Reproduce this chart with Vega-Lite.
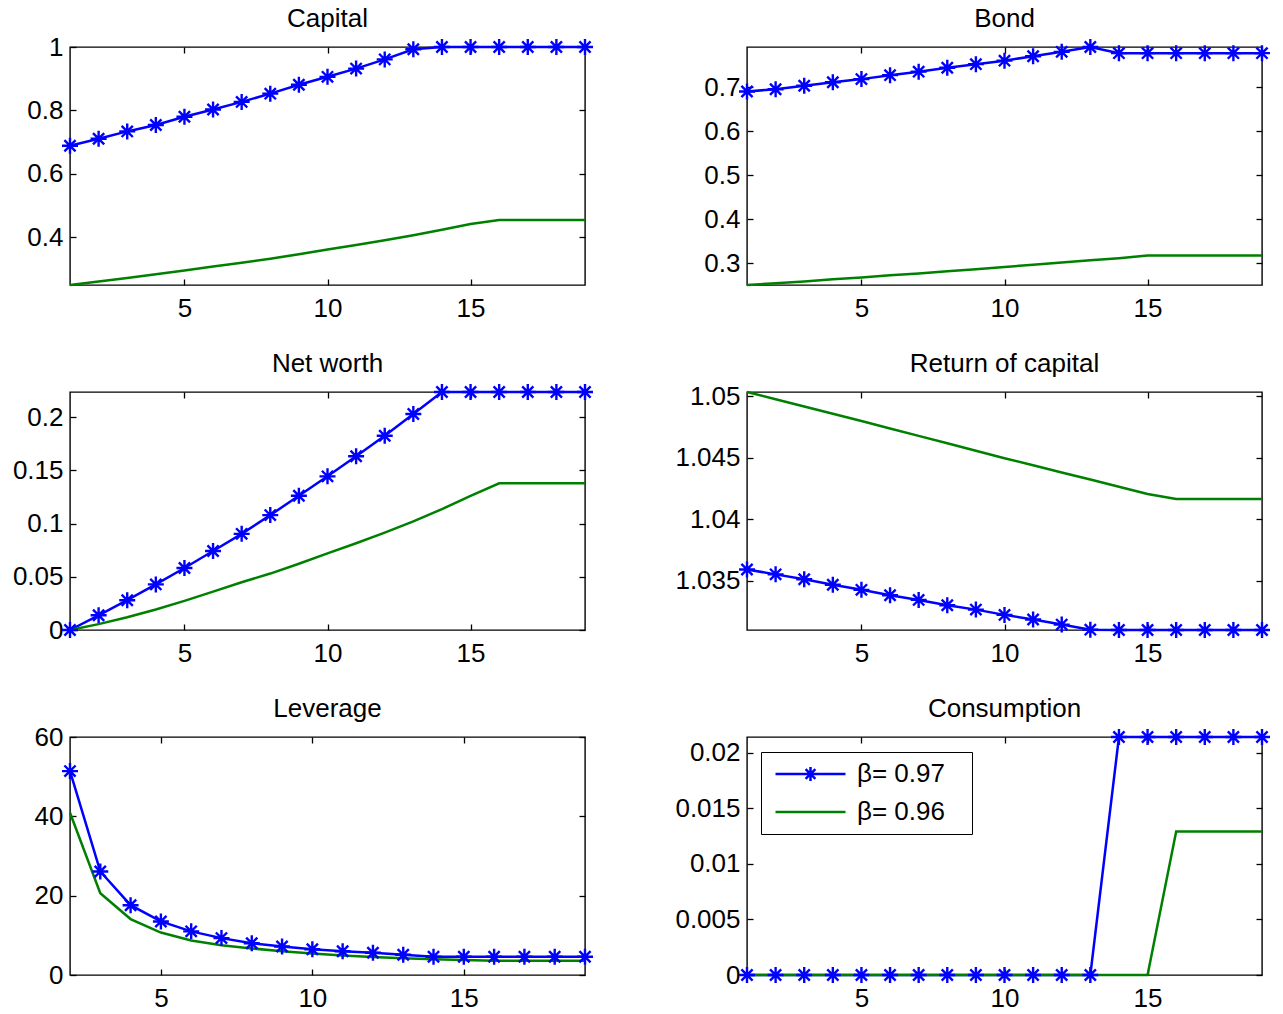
{
  "$schema": "https://vega.github.io/schema/vega-lite/v6.json",
  "padding": {"left": 11, "top": 5, "right": 5, "bottom": 5},
  "background": "white",
  "columns": 2,
  "spacing": {"row": 107, "column": 162},
  "bounds": "flush",
  "resolve": {"scale": {"color": "independent", "shape": "independent"}, "legend": {"color": "independent", "shape": "independent"}},
  "data": {"values": [
    {"p":"Capital","s":"β= 0.97","t":1,"v":0.689},{"p":"Capital","s":"β= 0.97","t":2,"v":0.711},{"p":"Capital","s":"β= 0.97","t":3,"v":0.734},{"p":"Capital","s":"β= 0.97","t":4,"v":0.754},{"p":"Capital","s":"β= 0.97","t":5,"v":0.78},{"p":"Capital","s":"β= 0.97","t":6,"v":0.803},{"p":"Capital","s":"β= 0.97","t":7,"v":0.827},{"p":"Capital","s":"β= 0.97","t":8,"v":0.853},{"p":"Capital","s":"β= 0.97","t":9,"v":0.881},{"p":"Capital","s":"β= 0.97","t":10,"v":0.906},{"p":"Capital","s":"β= 0.97","t":11,"v":0.932},{"p":"Capital","s":"β= 0.97","t":12,"v":0.961},{"p":"Capital","s":"β= 0.97","t":13,"v":0.993},{"p":"Capital","s":"β= 0.97","t":14,"v":1},{"p":"Capital","s":"β= 0.97","t":15,"v":1},{"p":"Capital","s":"β= 0.97","t":16,"v":1},{"p":"Capital","s":"β= 0.97","t":17,"v":1},{"p":"Capital","s":"β= 0.97","t":18,"v":1},{"p":"Capital","s":"β= 0.97","t":19,"v":1},
    {"p":"Capital","s":"β= 0.96","t":1,"v":0.25},{"p":"Capital","s":"β= 0.96","t":2,"v":0.261},{"p":"Capital","s":"β= 0.96","t":3,"v":0.272},{"p":"Capital","s":"β= 0.96","t":4,"v":0.284},{"p":"Capital","s":"β= 0.96","t":5,"v":0.296},{"p":"Capital","s":"β= 0.96","t":6,"v":0.308},{"p":"Capital","s":"β= 0.96","t":7,"v":0.32},{"p":"Capital","s":"β= 0.96","t":8,"v":0.333},{"p":"Capital","s":"β= 0.96","t":9,"v":0.347},{"p":"Capital","s":"β= 0.96","t":10,"v":0.362},{"p":"Capital","s":"β= 0.96","t":11,"v":0.376},{"p":"Capital","s":"β= 0.96","t":12,"v":0.391},{"p":"Capital","s":"β= 0.96","t":13,"v":0.407},{"p":"Capital","s":"β= 0.96","t":14,"v":0.424},{"p":"Capital","s":"β= 0.96","t":15,"v":0.442},{"p":"Capital","s":"β= 0.96","t":16,"v":0.455},{"p":"Capital","s":"β= 0.96","t":17,"v":0.455},{"p":"Capital","s":"β= 0.96","t":18,"v":0.455},{"p":"Capital","s":"β= 0.96","t":19,"v":0.455},
    {"p":"Bond","s":"β= 0.97","t":1,"v":0.69},{"p":"Bond","s":"β= 0.97","t":2,"v":0.695},{"p":"Bond","s":"β= 0.97","t":3,"v":0.703},{"p":"Bond","s":"β= 0.97","t":4,"v":0.711},{"p":"Bond","s":"β= 0.97","t":5,"v":0.718},{"p":"Bond","s":"β= 0.97","t":6,"v":0.727},{"p":"Bond","s":"β= 0.97","t":7,"v":0.735},{"p":"Bond","s":"β= 0.97","t":8,"v":0.744},{"p":"Bond","s":"β= 0.97","t":9,"v":0.752},{"p":"Bond","s":"β= 0.97","t":10,"v":0.76},{"p":"Bond","s":"β= 0.97","t":11,"v":0.77},{"p":"Bond","s":"β= 0.97","t":12,"v":0.78},{"p":"Bond","s":"β= 0.97","t":13,"v":0.791},{"p":"Bond","s":"β= 0.97","t":14,"v":0.777},{"p":"Bond","s":"β= 0.97","t":15,"v":0.777},{"p":"Bond","s":"β= 0.97","t":16,"v":0.777},{"p":"Bond","s":"β= 0.97","t":17,"v":0.777},{"p":"Bond","s":"β= 0.97","t":18,"v":0.777},{"p":"Bond","s":"β= 0.97","t":19,"v":0.777},
    {"p":"Bond","s":"β= 0.96","t":1,"v":0.25},{"p":"Bond","s":"β= 0.96","t":2,"v":0.254},{"p":"Bond","s":"β= 0.96","t":3,"v":0.258},{"p":"Bond","s":"β= 0.96","t":4,"v":0.263},{"p":"Bond","s":"β= 0.96","t":5,"v":0.267},{"p":"Bond","s":"β= 0.96","t":6,"v":0.272},{"p":"Bond","s":"β= 0.96","t":7,"v":0.276},{"p":"Bond","s":"β= 0.96","t":8,"v":0.281},{"p":"Bond","s":"β= 0.96","t":9,"v":0.286},{"p":"Bond","s":"β= 0.96","t":10,"v":0.291},{"p":"Bond","s":"β= 0.96","t":11,"v":0.296},{"p":"Bond","s":"β= 0.96","t":12,"v":0.301},{"p":"Bond","s":"β= 0.96","t":13,"v":0.306},{"p":"Bond","s":"β= 0.96","t":14,"v":0.311},{"p":"Bond","s":"β= 0.96","t":15,"v":0.317},{"p":"Bond","s":"β= 0.96","t":16,"v":0.317},{"p":"Bond","s":"β= 0.96","t":17,"v":0.317},{"p":"Bond","s":"β= 0.96","t":18,"v":0.317},{"p":"Bond","s":"β= 0.96","t":19,"v":0.317},
    {"p":"Net worth","s":"β= 0.97","t":1,"v":0},{"p":"Net worth","s":"β= 0.97","t":2,"v":0.0138},{"p":"Net worth","s":"β= 0.97","t":3,"v":0.028},{"p":"Net worth","s":"β= 0.97","t":4,"v":0.0428},{"p":"Net worth","s":"β= 0.97","t":5,"v":0.0582},{"p":"Net worth","s":"β= 0.97","t":6,"v":0.0742},{"p":"Net worth","s":"β= 0.97","t":7,"v":0.0903},{"p":"Net worth","s":"β= 0.97","t":8,"v":0.1079},{"p":"Net worth","s":"β= 0.97","t":9,"v":0.1261},{"p":"Net worth","s":"β= 0.97","t":10,"v":0.1443},{"p":"Net worth","s":"β= 0.97","t":11,"v":0.1632},{"p":"Net worth","s":"β= 0.97","t":12,"v":0.1824},{"p":"Net worth","s":"β= 0.97","t":13,"v":0.2028},{"p":"Net worth","s":"β= 0.97","t":14,"v":0.2235},{"p":"Net worth","s":"β= 0.97","t":15,"v":0.2235},{"p":"Net worth","s":"β= 0.97","t":16,"v":0.2235},{"p":"Net worth","s":"β= 0.97","t":17,"v":0.2235},{"p":"Net worth","s":"β= 0.97","t":18,"v":0.2235},{"p":"Net worth","s":"β= 0.97","t":19,"v":0.2235},
    {"p":"Net worth","s":"β= 0.96","t":1,"v":0},{"p":"Net worth","s":"β= 0.96","t":2,"v":0.0055},{"p":"Net worth","s":"β= 0.96","t":3,"v":0.012},{"p":"Net worth","s":"β= 0.96","t":4,"v":0.0193},{"p":"Net worth","s":"β= 0.96","t":5,"v":0.0274},{"p":"Net worth","s":"β= 0.96","t":6,"v":0.036},{"p":"Net worth","s":"β= 0.96","t":7,"v":0.0448},{"p":"Net worth","s":"β= 0.96","t":8,"v":0.053},{"p":"Net worth","s":"β= 0.96","t":9,"v":0.0622},{"p":"Net worth","s":"β= 0.96","t":10,"v":0.072},{"p":"Net worth","s":"β= 0.96","t":11,"v":0.0815},{"p":"Net worth","s":"β= 0.96","t":12,"v":0.0915},{"p":"Net worth","s":"β= 0.96","t":13,"v":0.102},{"p":"Net worth","s":"β= 0.96","t":14,"v":0.1135},{"p":"Net worth","s":"β= 0.96","t":15,"v":0.126},{"p":"Net worth","s":"β= 0.96","t":16,"v":0.1377},{"p":"Net worth","s":"β= 0.96","t":17,"v":0.1377},{"p":"Net worth","s":"β= 0.96","t":18,"v":0.1377},{"p":"Net worth","s":"β= 0.96","t":19,"v":0.1377},
    {"p":"Return of capital","s":"β= 0.97","t":1,"v":1.0359},{"p":"Return of capital","s":"β= 0.97","t":2,"v":1.0355},{"p":"Return of capital","s":"β= 0.97","t":3,"v":1.0351},{"p":"Return of capital","s":"β= 0.97","t":4,"v":1.03465},{"p":"Return of capital","s":"β= 0.97","t":5,"v":1.03424},{"p":"Return of capital","s":"β= 0.97","t":6,"v":1.0338},{"p":"Return of capital","s":"β= 0.97","t":7,"v":1.03342},{"p":"Return of capital","s":"β= 0.97","t":8,"v":1.03299},{"p":"Return of capital","s":"β= 0.97","t":9,"v":1.03263},{"p":"Return of capital","s":"β= 0.97","t":10,"v":1.0322},{"p":"Return of capital","s":"β= 0.97","t":11,"v":1.03182},{"p":"Return of capital","s":"β= 0.97","t":12,"v":1.03141},{"p":"Return of capital","s":"β= 0.97","t":13,"v":1.031},{"p":"Return of capital","s":"β= 0.97","t":14,"v":1.03097},{"p":"Return of capital","s":"β= 0.97","t":15,"v":1.03097},{"p":"Return of capital","s":"β= 0.97","t":16,"v":1.03097},{"p":"Return of capital","s":"β= 0.97","t":17,"v":1.03097},{"p":"Return of capital","s":"β= 0.97","t":18,"v":1.03097},{"p":"Return of capital","s":"β= 0.97","t":19,"v":1.03097},
    {"p":"Return of capital","s":"β= 0.96","t":1,"v":1.05035},{"p":"Return of capital","s":"β= 0.96","t":2,"v":1.04976},{"p":"Return of capital","s":"β= 0.96","t":3,"v":1.04917},{"p":"Return of capital","s":"β= 0.96","t":4,"v":1.04858},{"p":"Return of capital","s":"β= 0.96","t":5,"v":1.04799},{"p":"Return of capital","s":"β= 0.96","t":6,"v":1.04738},{"p":"Return of capital","s":"β= 0.96","t":7,"v":1.04678},{"p":"Return of capital","s":"β= 0.96","t":8,"v":1.04617},{"p":"Return of capital","s":"β= 0.96","t":9,"v":1.04557},{"p":"Return of capital","s":"β= 0.96","t":10,"v":1.04496},{"p":"Return of capital","s":"β= 0.96","t":11,"v":1.04438},{"p":"Return of capital","s":"β= 0.96","t":12,"v":1.0438},{"p":"Return of capital","s":"β= 0.96","t":13,"v":1.04322},{"p":"Return of capital","s":"β= 0.96","t":14,"v":1.04264},{"p":"Return of capital","s":"β= 0.96","t":15,"v":1.04205},{"p":"Return of capital","s":"β= 0.96","t":16,"v":1.04164},{"p":"Return of capital","s":"β= 0.96","t":17,"v":1.04164},{"p":"Return of capital","s":"β= 0.96","t":18,"v":1.04164},{"p":"Return of capital","s":"β= 0.96","t":19,"v":1.04164},
    {"p":"Leverage","s":"β= 0.97","t":2,"v":51.4},{"p":"Leverage","s":"β= 0.97","t":3,"v":26.1},{"p":"Leverage","s":"β= 0.97","t":4,"v":17.6},{"p":"Leverage","s":"β= 0.97","t":5,"v":13.5},{"p":"Leverage","s":"β= 0.97","t":6,"v":11.0},{"p":"Leverage","s":"β= 0.97","t":7,"v":9.3},{"p":"Leverage","s":"β= 0.97","t":8,"v":8.0},{"p":"Leverage","s":"β= 0.97","t":9,"v":7.2},{"p":"Leverage","s":"β= 0.97","t":10,"v":6.5},{"p":"Leverage","s":"β= 0.97","t":11,"v":6.0},{"p":"Leverage","s":"β= 0.97","t":12,"v":5.6},{"p":"Leverage","s":"β= 0.97","t":13,"v":5.1},{"p":"Leverage","s":"β= 0.97","t":14,"v":4.6},{"p":"Leverage","s":"β= 0.97","t":15,"v":4.6},{"p":"Leverage","s":"β= 0.97","t":16,"v":4.6},{"p":"Leverage","s":"β= 0.97","t":17,"v":4.6},{"p":"Leverage","s":"β= 0.97","t":18,"v":4.6},{"p":"Leverage","s":"β= 0.97","t":19,"v":4.6},
    {"p":"Leverage","s":"β= 0.96","t":2,"v":40.9},{"p":"Leverage","s":"β= 0.96","t":3,"v":20.6},{"p":"Leverage","s":"β= 0.96","t":4,"v":14.1},{"p":"Leverage","s":"β= 0.96","t":5,"v":10.7},{"p":"Leverage","s":"β= 0.96","t":6,"v":8.7},{"p":"Leverage","s":"β= 0.96","t":7,"v":7.5},{"p":"Leverage","s":"β= 0.96","t":8,"v":6.7},{"p":"Leverage","s":"β= 0.96","t":9,"v":6.0},{"p":"Leverage","s":"β= 0.96","t":10,"v":5.4},{"p":"Leverage","s":"β= 0.96","t":11,"v":4.9},{"p":"Leverage","s":"β= 0.96","t":12,"v":4.55},{"p":"Leverage","s":"β= 0.96","t":13,"v":4.2},{"p":"Leverage","s":"β= 0.96","t":14,"v":3.95},{"p":"Leverage","s":"β= 0.96","t":15,"v":3.8},{"p":"Leverage","s":"β= 0.96","t":16,"v":3.6},{"p":"Leverage","s":"β= 0.96","t":17,"v":3.6},{"p":"Leverage","s":"β= 0.96","t":18,"v":3.6},{"p":"Leverage","s":"β= 0.96","t":19,"v":3.6},
    {"p":"Consumption","s":"β= 0.97","t":1,"v":0},{"p":"Consumption","s":"β= 0.97","t":2,"v":0},{"p":"Consumption","s":"β= 0.97","t":3,"v":0},{"p":"Consumption","s":"β= 0.97","t":4,"v":0},{"p":"Consumption","s":"β= 0.97","t":5,"v":0},{"p":"Consumption","s":"β= 0.97","t":6,"v":0},{"p":"Consumption","s":"β= 0.97","t":7,"v":0},{"p":"Consumption","s":"β= 0.97","t":8,"v":0},{"p":"Consumption","s":"β= 0.97","t":9,"v":0},{"p":"Consumption","s":"β= 0.97","t":10,"v":0},{"p":"Consumption","s":"β= 0.97","t":11,"v":0},{"p":"Consumption","s":"β= 0.97","t":12,"v":0},{"p":"Consumption","s":"β= 0.97","t":13,"v":0},{"p":"Consumption","s":"β= 0.97","t":14,"v":0.0214},{"p":"Consumption","s":"β= 0.97","t":15,"v":0.0214},{"p":"Consumption","s":"β= 0.97","t":16,"v":0.0214},{"p":"Consumption","s":"β= 0.97","t":17,"v":0.0214},{"p":"Consumption","s":"β= 0.97","t":18,"v":0.0214},{"p":"Consumption","s":"β= 0.97","t":19,"v":0.0214},
    {"p":"Consumption","s":"β= 0.96","t":1,"v":0},{"p":"Consumption","s":"β= 0.96","t":2,"v":0},{"p":"Consumption","s":"β= 0.96","t":3,"v":0},{"p":"Consumption","s":"β= 0.96","t":4,"v":0},{"p":"Consumption","s":"β= 0.96","t":5,"v":0},{"p":"Consumption","s":"β= 0.96","t":6,"v":0},{"p":"Consumption","s":"β= 0.96","t":7,"v":0},{"p":"Consumption","s":"β= 0.96","t":8,"v":0},{"p":"Consumption","s":"β= 0.96","t":9,"v":0},{"p":"Consumption","s":"β= 0.96","t":10,"v":0},{"p":"Consumption","s":"β= 0.96","t":11,"v":0},{"p":"Consumption","s":"β= 0.96","t":12,"v":0},{"p":"Consumption","s":"β= 0.96","t":13,"v":0},{"p":"Consumption","s":"β= 0.96","t":14,"v":0},{"p":"Consumption","s":"β= 0.96","t":15,"v":0},{"p":"Consumption","s":"β= 0.96","t":16,"v":0.0129},{"p":"Consumption","s":"β= 0.96","t":17,"v":0.0129},{"p":"Consumption","s":"β= 0.96","t":18,"v":0.0129},{"p":"Consumption","s":"β= 0.96","t":19,"v":0.0129}
  ]},
  "concat": [
    {
      "width": 515, "height": 238, "title": "Capital",
      "transform": [{"filter": "datum.p === 'Capital'"}],
      "resolve": {"axis": {"x": "independent", "y": "independent"}},
      "layer": [
        {"mark": {"type": "line", "strokeWidth": 2.5},
         "encoding": {
           "x": {"field": "t", "type": "quantitative", "scale": {"domain": [1, 19], "nice": false, "zero": false}, "axis": {"values": [5, 10, 15], "title": null}},
           "y": {"field": "v", "type": "quantitative", "scale": {"domain": [0.25, 1], "nice": false, "zero": false}, "axis": {"values": [0.4, 0.6, 0.8, 1], "title": null, "format": ".4~f"}},
           "color": {"field": "s", "type": "nominal", "sort": null, "scale": {"domain": ["β= 0.97", "β= 0.96"], "range": ["#0000ff", "#008000"]}, "legend": null}}},
        {"transform": [{"filter": "datum.s === 'β= 0.97'"}],
         "mark": {"type": "point", "shape": "M0,-1V1M-1,0H1M-0.7,-0.7L0.7,0.7M-0.7,0.7L0.7,-0.7", "size": 256, "strokeWidth": 2.4, "filled": false, "color": "#0000ff", "opacity": 1},
         "encoding": {
           "x": {"field": "t", "type": "quantitative", "axis": {"orient": "top", "values": [5, 10, 15], "labels": false, "title": null}},
           "y": {"field": "v", "type": "quantitative", "axis": {"orient": "right", "values": [0.4, 0.6, 0.8, 1], "labels": false, "title": null}}}}
      ]
    },
    {
      "width": 515, "height": 238, "title": "Bond",
      "transform": [{"filter": "datum.p === 'Bond'"}],
      "resolve": {"axis": {"x": "independent", "y": "independent"}},
      "layer": [
        {"mark": {"type": "line", "strokeWidth": 2.5},
         "encoding": {
           "x": {"field": "t", "type": "quantitative", "scale": {"domain": [1, 19], "nice": false, "zero": false}, "axis": {"values": [5, 10, 15], "title": null}},
           "y": {"field": "v", "type": "quantitative", "scale": {"domain": [0.25, 0.791], "nice": false, "zero": false}, "axis": {"values": [0.3, 0.4, 0.5, 0.6, 0.7], "title": null, "format": ".4~f"}},
           "color": {"field": "s", "type": "nominal", "sort": null, "scale": {"domain": ["β= 0.97", "β= 0.96"], "range": ["#0000ff", "#008000"]}, "legend": null}}},
        {"transform": [{"filter": "datum.s === 'β= 0.97'"}],
         "mark": {"type": "point", "shape": "M0,-1V1M-1,0H1M-0.7,-0.7L0.7,0.7M-0.7,0.7L0.7,-0.7", "size": 256, "strokeWidth": 2.4, "filled": false, "color": "#0000ff", "opacity": 1},
         "encoding": {
           "x": {"field": "t", "type": "quantitative", "axis": {"orient": "top", "values": [5, 10, 15], "labels": false, "title": null}},
           "y": {"field": "v", "type": "quantitative", "axis": {"orient": "right", "values": [0.3, 0.4, 0.5, 0.6, 0.7], "labels": false, "title": null}}}}
      ]
    },
    {
      "width": 515, "height": 238, "title": "Net worth",
      "transform": [{"filter": "datum.p === 'Net worth'"}],
      "resolve": {"axis": {"x": "independent", "y": "independent"}},
      "layer": [
        {"mark": {"type": "line", "strokeWidth": 2.5},
         "encoding": {
           "x": {"field": "t", "type": "quantitative", "scale": {"domain": [1, 19], "nice": false, "zero": false}, "axis": {"values": [5, 10, 15], "title": null}},
           "y": {"field": "v", "type": "quantitative", "scale": {"domain": [0, 0.2235], "nice": false, "zero": false}, "axis": {"values": [0, 0.05, 0.1, 0.15, 0.2], "title": null, "format": ".4~f"}},
           "color": {"field": "s", "type": "nominal", "sort": null, "scale": {"domain": ["β= 0.97", "β= 0.96"], "range": ["#0000ff", "#008000"]}, "legend": null}}},
        {"transform": [{"filter": "datum.s === 'β= 0.97'"}],
         "mark": {"type": "point", "shape": "M0,-1V1M-1,0H1M-0.7,-0.7L0.7,0.7M-0.7,0.7L0.7,-0.7", "size": 256, "strokeWidth": 2.4, "filled": false, "color": "#0000ff", "opacity": 1},
         "encoding": {
           "x": {"field": "t", "type": "quantitative", "axis": {"orient": "top", "values": [5, 10, 15], "labels": false, "title": null}},
           "y": {"field": "v", "type": "quantitative", "axis": {"orient": "right", "values": [0, 0.05, 0.1, 0.15, 0.2], "labels": false, "title": null}}}}
      ]
    },
    {
      "width": 515, "height": 238, "title": {"text": "Return of capital", "offset": 6},
      "transform": [{"filter": "datum.p === 'Return of capital'"}],
      "resolve": {"axis": {"x": "independent", "y": "independent"}},
      "layer": [
        {"mark": {"type": "line", "strokeWidth": 2.5},
         "encoding": {
           "x": {"field": "t", "type": "quantitative", "scale": {"domain": [1, 19], "nice": false, "zero": false}, "axis": {"values": [5, 10, 15], "title": null}},
           "y": {"field": "v", "type": "quantitative", "scale": {"domain": [1.03097, 1.05035], "nice": false, "zero": false}, "axis": {"values": [1.035, 1.04, 1.045, 1.05], "title": null, "format": ".4~f"}},
           "color": {"field": "s", "type": "nominal", "sort": null, "scale": {"domain": ["β= 0.97", "β= 0.96"], "range": ["#0000ff", "#008000"]}, "legend": null}}},
        {"transform": [{"filter": "datum.s === 'β= 0.97'"}],
         "mark": {"type": "point", "shape": "M0,-1V1M-1,0H1M-0.7,-0.7L0.7,0.7M-0.7,0.7L0.7,-0.7", "size": 256, "strokeWidth": 2.4, "filled": false, "color": "#0000ff", "opacity": 1},
         "encoding": {
           "x": {"field": "t", "type": "quantitative", "axis": {"orient": "top", "values": [5, 10, 15], "labels": false, "title": null}},
           "y": {"field": "v", "type": "quantitative", "axis": {"orient": "right", "values": [1.035, 1.04, 1.045, 1.05], "labels": false, "title": null}}}}
      ]
    },
    {
      "width": 515, "height": 238, "title": "Leverage",
      "transform": [{"filter": "datum.p === 'Leverage'"}],
      "resolve": {"axis": {"x": "independent", "y": "independent"}},
      "layer": [
        {"mark": {"type": "line", "strokeWidth": 2.5},
         "encoding": {
           "x": {"field": "t", "type": "quantitative", "scale": {"domain": [2, 19], "nice": false, "zero": false}, "axis": {"values": [5, 10, 15], "title": null}},
           "y": {"field": "v", "type": "quantitative", "scale": {"domain": [0, 60], "nice": false, "zero": false}, "axis": {"values": [0, 20, 40, 60], "title": null, "format": ".4~f"}},
           "color": {"field": "s", "type": "nominal", "sort": null, "scale": {"domain": ["β= 0.97", "β= 0.96"], "range": ["#0000ff", "#008000"]}, "legend": null}}},
        {"transform": [{"filter": "datum.s === 'β= 0.97'"}],
         "mark": {"type": "point", "shape": "M0,-1V1M-1,0H1M-0.7,-0.7L0.7,0.7M-0.7,0.7L0.7,-0.7", "size": 256, "strokeWidth": 2.4, "filled": false, "color": "#0000ff", "opacity": 1},
         "encoding": {
           "x": {"field": "t", "type": "quantitative", "axis": {"orient": "top", "values": [5, 10, 15], "labels": false, "title": null}},
           "y": {"field": "v", "type": "quantitative", "axis": {"orient": "right", "values": [0, 20, 40, 60], "labels": false, "title": null}}}}
      ]
    },
    {
      "width": 515, "height": 238, "title": "Consumption",
      "transform": [{"filter": "datum.p === 'Consumption'"}],
      "resolve": {"axis": {"x": "independent", "y": "independent"}},
      "layer": [
        {"mark": {"type": "line", "strokeWidth": 2.5},
         "encoding": {
           "x": {"field": "t", "type": "quantitative", "scale": {"domain": [1, 19], "nice": false, "zero": false}, "axis": {"values": [5, 10, 15], "title": null}},
           "y": {"field": "v", "type": "quantitative", "scale": {"domain": [0, 0.0214], "nice": false, "zero": false}, "axis": {"values": [0, 0.005, 0.01, 0.015, 0.02], "title": null, "format": ".4~f"}},
           "color": {"field": "s", "type": "nominal", "sort": null, "scale": {"domain": ["β= 0.97", "β= 0.96"], "range": ["#0000ff", "#008000"]},
             "legend": {"title": null, "orient": "none", "legendX": 14, "legendY": 15, "strokeColor": "black", "fillColor": "white", "padding": 8, "symbolSize": 4900, "symbolStrokeWidth": 2.5, "symbolOpacity": 1, "clipHeight": 28, "rowPadding": 10, "symbolOffset": 5, "labelOffset": 10, "labelFontSize": 26, "labelColor": "black", "labelExpr": "datum.label + '\u2800'"}}}},
        {"transform": [{"filter": "datum.s === 'β= 0.97'"}],
         "mark": {"type": "point", "shape": "M0,-1V1M-1,0H1M-0.7,-0.7L0.7,0.7M-0.7,0.7L0.7,-0.7", "size": 256, "strokeWidth": 2.4, "filled": false, "color": "#0000ff", "opacity": 1},
         "encoding": {
           "x": {"field": "t", "type": "quantitative", "axis": {"orient": "top", "values": [5, 10, 15], "labels": false, "title": null}},
           "y": {"field": "v", "type": "quantitative", "axis": {"orient": "right", "values": [0, 0.005, 0.01, 0.015, 0.02], "labels": false, "title": null}}}},
        {"mark": {"type": "point", "filled": false, "opacity": 0, "strokeWidth": 2.5},
         "encoding": {
           "x": {"field": "t", "type": "quantitative", "axis": null},
           "y": {"field": "v", "type": "quantitative", "axis": null},
           "color": {"field": "s", "type": "nominal", "sort": null, "scale": {"domain": ["β= 0.97", "β= 0.96"], "range": ["#0000ff", "#008000"]},
             "legend": {"title": null, "orient": "none", "legendX": 14, "legendY": 15, "strokeColor": "black", "fillColor": "white", "padding": 8, "symbolSize": 4900, "symbolStrokeWidth": 2.5, "symbolOpacity": 1, "clipHeight": 28, "rowPadding": 10, "symbolOffset": 5, "labelOffset": 10, "labelFontSize": 26, "labelColor": "black", "labelExpr": "datum.label + '\u2800'"}},
           "shape": {"field": "s", "type": "nominal", "sort": null, "scale": {"domain": ["β= 0.97", "β= 0.96"], "range": ["M-1,0H1M0,-0.2V0.2M-0.14,-0.14L0.14,0.14M-0.14,0.14L0.14,-0.14", "M-1,0H1"]},
             "legend": {"title": null, "orient": "none", "legendX": 14, "legendY": 15, "strokeColor": "black", "fillColor": "white", "padding": 8, "symbolSize": 4900, "symbolStrokeWidth": 2.5, "symbolOpacity": 1, "clipHeight": 28, "rowPadding": 10, "symbolOffset": 5, "labelOffset": 10, "labelFontSize": 26, "labelColor": "black", "labelExpr": "datum.label + '\u2800'"}}}}
      ]
    }
  ],
  "config": {
    "font": "Liberation Sans",
    "view": {"stroke": "black", "strokeWidth": 1.4},
    "axis": {"domain": false, "grid": false, "ticks": true, "tickSize": -6, "tickColor": "black", "tickWidth": 1.3, "labelFontSize": 26, "labelColor": "black", "labelFont": "Liberation Sans", "labelOverlap": false, "labelFlush": false},
    "axisX": {"labelPadding": 16},
    "axisY": {"labelPadding": 13},
    "title": {"fontSize": 26, "fontWeight": "normal", "color": "black", "font": "Liberation Sans", "offset": 2},
    "legend": {"labelFont": "Liberation Sans"}
  }
}
